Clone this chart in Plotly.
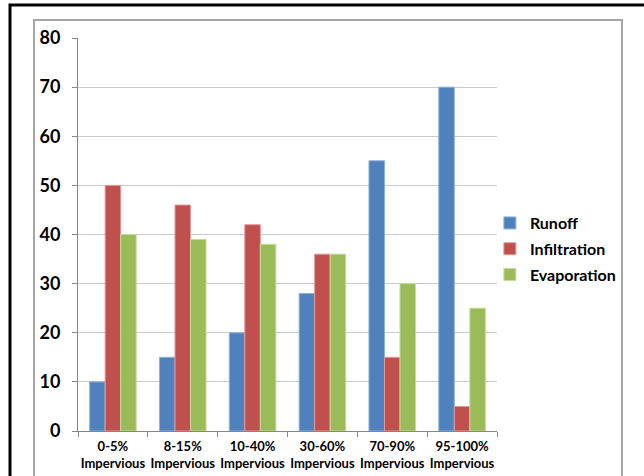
import plotly.graph_objects as go

categories = ["0-5%<br>Impervious", "8-15%<br>Impervious", "10-40%<br>Impervious",
              "30-60%<br>Impervious", "70-90%<br>Impervious", "95-100%<br>Impervious"]
runoff = [10, 15, 20, 28, 55, 70]
infiltration = [50, 46, 42, 36, 15, 5]
evaporation = [40, 39, 38, 36, 30, 25]

series = [
    ("Runoff", runoff, "#4F81BD", "#8FB0DA"),
    ("Infiltration", infiltration, "#C0504D", "#E09A98"),
    ("Evaporation", evaporation, "#9BBB59", "#C6DA9C"),
]

fig = go.Figure()
for name, vals, col, edge in series:
    fig.add_trace(go.Bar(
        x=categories, y=vals, name=name, legendgroup=name,
        marker=dict(color=col, line=dict(color=edge, width=1)),
    ))

font_family = "Lato, 'Open Sans', Arial, sans-serif"
fig.update_layout(
    width=644, height=476,
    margin=dict(l=78, r=147, t=38, b=45, autoexpand=False),
    paper_bgcolor="white", plot_bgcolor="white",
    barmode="group", bargap=0.333, bargroupgap=0,
    font=dict(family=font_family, color="black"),
    legend=dict(x=0.983, y=0.463, xanchor="left", yanchor="middle",
                bgcolor="rgba(0,0,0,0)",
                font=dict(size=16, family=font_family, weight="bold"),
                tracegroupgap=2, traceorder="grouped", itemwidth=30),
    showlegend=True,
)
fig.update_yaxes(
    range=[0, 80], dtick=10, showgrid=True, gridcolor="#CACACA", gridwidth=1,
    showline=True, linecolor="#868686", linewidth=1,
    ticks="outside", ticklen=5, tickcolor="#868686",
    tickfont=dict(size=18, family=font_family, weight="bold"),
    ticklabelstandoff=8, zeroline=False, automargin=False,
)
fig.update_xaxes(
    showgrid=False, showline=True, linecolor="#868686", linewidth=1,
    ticks="outside", ticklen=5, tickcolor="#868686", tickson="boundaries",
    tickfont=dict(size=13, family=font_family, weight="bold"), tickangle=0,
    ticklabelstandoff=3, range=[-0.5, 5.5], automargin=False,
)

# chart frames (inner gray, outer black)
fig.add_shape(type="rect", xref="paper", yref="paper",
              x0=(34 - 78) / 419, x1=(622 - 78) / 419,
              y0=-0.3, y1=(431 - 20) / 393,
              line=dict(color="#A6A6A6", width=2), layer="below")
fig.add_shape(type="rect", xref="paper", yref="paper",
              x0=(10 - 78) / 419, x1=(700 - 78) / 419,
              y0=-0.3, y1=(431 - 5) / 393,
              line=dict(color="black", width=3), layer="below")

fig.write_html("out.html", config={"displayModeBar": False},
               post_script="document.body.style.margin='0';document.body.style.overflow='hidden';")
